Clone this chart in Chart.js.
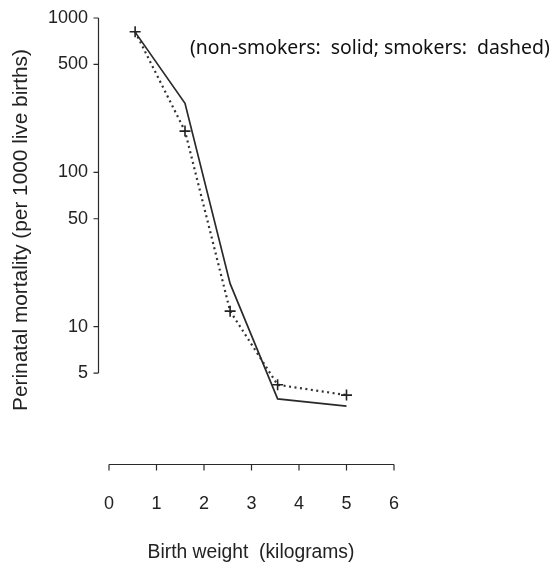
<!DOCTYPE html>
<html>
<head>
<meta charset="utf-8">
<script src="https://cdn.jsdelivr.net/npm/chart.js@4/dist/chart.umd.min.js"></script>
<style>
  html, body { margin: 0; padding: 0; background: #fff; }
  #wrap { width: 554px; height: 564px; }
</style>
</head>
<body>
<div id="wrap"><canvas id="myChart" width="554" height="564"></canvas></div>
<script>
// birth weight (kg) for each group
const weights = [0.55, 1.6, 2.55, 3.55, 5.0];
// perinatal mortality per 1000 live births
const nonSmokers = [810, 280, 19, 3.4, 3.05];
const smokers = [815, 185, 12.6, 4.2, 3.6];
const yTicks = [5, 10, 50, 100, 500, 1000];
const xTicks = [0, 1, 2, 3, 4, 5, 6];

const ink = '#2a2a2a';

// draw text scaled so it fills a given width
function fitText(ctx, text, x, y, width, size, family) {
  ctx.font = size + 'px ' + family;
  const w = ctx.measureText(text).width;
  const s = width / w;
  ctx.font = (size * s).toFixed(2) + 'px ' + family;
  ctx.fillText(text, x, y);
}

// R-style detached axes, drawn from the chart's own scales
const axesPlugin = {
  id: 'rAxes',
  afterDraw(chart) {
    const ctx = chart.ctx;
    const xs = chart.scales.x;
    const ys = chart.scales.y;
    ctx.save();
    ctx.strokeStyle = ink;
    ctx.fillStyle = '#222';
    ctx.lineWidth = 1.2;

    // y axis
    const ax = 98.5;
    const yTop = ys.getPixelForValue(1000);
    const yBot = ys.getPixelForValue(5);
    ctx.beginPath();
    ctx.moveTo(ax, yTop);
    ctx.lineTo(ax, yBot);
    yTicks.forEach(v => {
      const p = ys.getPixelForValue(v);
      ctx.moveTo(ax, p);
      ctx.lineTo(ax - 5, p);
    });
    ctx.stroke();
    ctx.font = '18px "Liberation Sans", Arial, sans-serif';
    ctx.textAlign = 'right';
    ctx.textBaseline = 'middle';
    yTicks.forEach(v => {
      ctx.fillText(String(v), 88, ys.getPixelForValue(v));
    });

    // x axis
    const ay = 464.5;
    ctx.beginPath();
    ctx.moveTo(xs.getPixelForValue(0), ay);
    ctx.lineTo(xs.getPixelForValue(6), ay);
    xTicks.forEach(v => {
      const p = xs.getPixelForValue(v);
      ctx.moveTo(p, ay);
      ctx.lineTo(p, ay + 6);
    });
    ctx.stroke();
    ctx.textAlign = 'center';
    xTicks.forEach(v => {
      ctx.fillText(String(v), xs.getPixelForValue(v), 504);
    });

    // axis titles
    const sans = '"Liberation Sans", Arial, sans-serif';
    fitText(ctx, 'Birth weight  (kilograms)', 251, 553, 207, 17, sans);
    ctx.save();
    ctx.translate(21, 230);
    ctx.rotate(-Math.PI / 2);
    fitText(ctx, 'Perinatal mortality (per 1000 live births)', 0, 0, 362, 17, sans);
    ctx.restore();

    // note
    ctx.textAlign = 'left';
    ctx.fillStyle = '#111';
    fitText(ctx, '(non-smokers:  solid; smokers:  dashed)', 190, 48, 360, 16, '"Noto Sans", sans-serif');
    ctx.restore();
  }
};

const ctx = document.getElementById('myChart').getContext('2d');
new Chart(ctx, {
  type: 'line',
  data: {
    datasets: [
      {
        label: 'non-smokers',
        data: weights.map((w, i) => ({ x: w, y: nonSmokers[i] })),
        borderColor: ink,
        borderWidth: 1.7,
        pointRadius: 0,
        fill: false,
        tension: 0,
        clip: false
      },
      {
        label: 'smokers',
        data: weights.map((w, i) => ({ x: w, y: smokers[i] })),
        borderColor: '#333',
        borderWidth: 2.2,
        borderDash: [2, 3.5],
        pointStyle: 'cross',
        pointRadius: 5.5,
        pointBorderWidth: 1.6,
        pointBorderColor: '#222',
        fill: false,
        tension: 0,
        clip: false
      }
    ]
  },
  options: {
    responsive: false,
    animation: false,
    // 1000 at y=18, one decade ~154px; min 2 sits near y=434
    layout: { padding: { left: 109, right: 160, top: 18, bottom: 129.5 } },
    scales: {
      x: { type: 'linear', min: 0, max: 6, display: false },
      y: { type: 'logarithmic', min: 2, max: 1000, display: false }
    },
    plugins: {
      legend: { display: false },
      tooltip: { enabled: false }
    }
  },
  plugins: [axesPlugin]
});
</script>
</body>
</html>
